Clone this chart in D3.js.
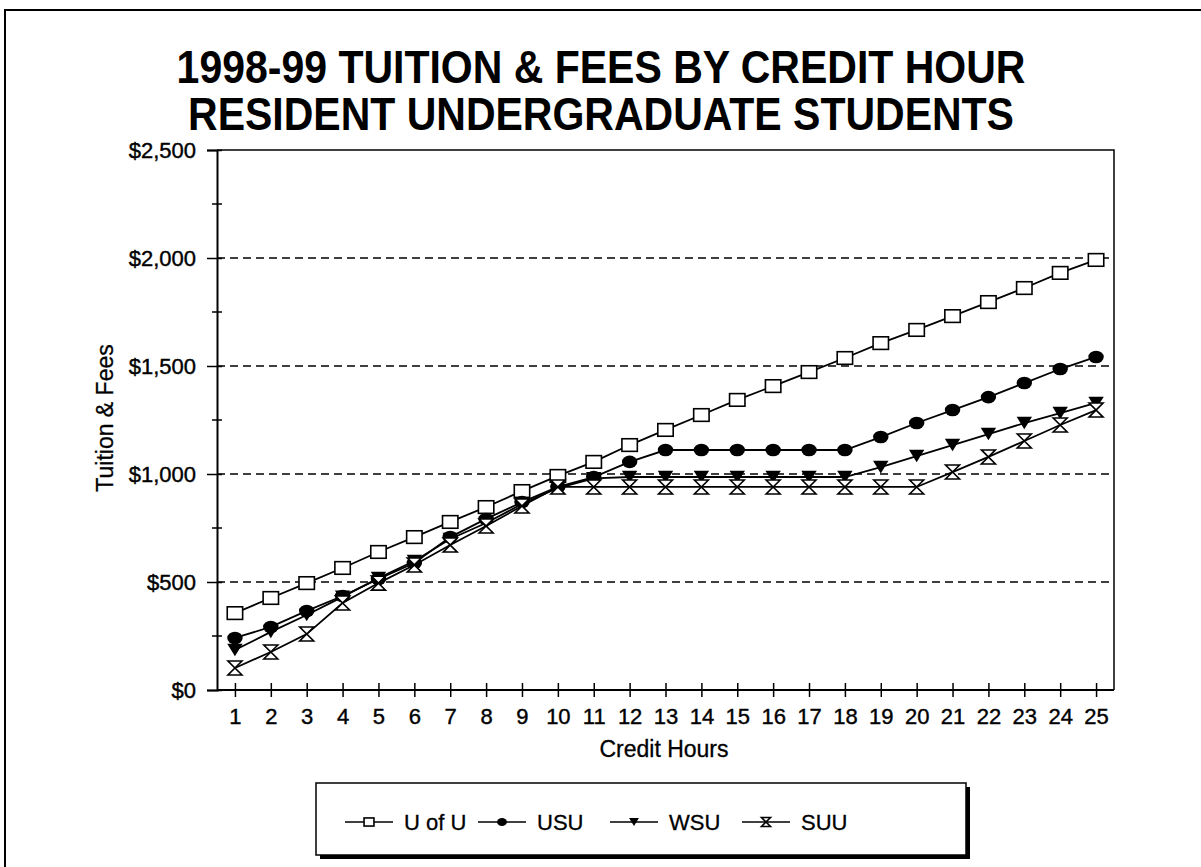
<!DOCTYPE html>
<html>
<head>
<meta charset="utf-8">
<script src="https://cdn.jsdelivr.net/npm/d3@7/dist/d3.min.js"></script>
<style>
  body { margin: 0; background: #fff; }
  svg { font-family: "Liberation Sans", Arial, sans-serif; }
</style>
</head>
<body>
<div class="canvas"></div>
<script>
var width = 1201,
   height = 867;

// data
var credits = [1,2,3,4,5,6,7,8,9,10,11,12,13,14,15,16,17,18,19,20,21,22,23,24,25];
var uofu = [356,426,495,565,639,708,778,847,921,991,1056,1134,1204,1273,1343,1407,1472,1537,1606,1667,1731,1796,1861,1931,1991];
var usu = [241,292,366,435,514,588,708,792,870,940,986,1056,1111,1111,1111,1111,1111,1111,1171,1236,1296,1356,1421,1486,1542];
var wsu = [185,269,347,431,518,597,699,773,861,935,980,986,986,986,986,986,986,986,1032,1083,1134,1185,1236,1282,1329];
var suu = [102,176,259,403,495,579,671,759,852,940,940,940,940,940,940,940,940,940,940,940,1009,1079,1153,1227,1296];
var seriesNames = ['U of U', 'USU', 'WSU', 'SUU'];
var yTicks = [0, 500, 1000, 1500, 2000, 2500];
var titleLines = ['1998-99 TUITION & FEES BY CREDIT HOUR', 'RESIDENT UNDERGRADUATE STUDENTS'];

var series = [
   {name: seriesNames[0], values: uofu, marker: 'square'},
   {name: seriesNames[1], values: usu, marker: 'circle'},
   {name: seriesNames[2], values: wsu, marker: 'triangle'},
   {name: seriesNames[3], values: suu, marker: 'hourglass'}
];

var plot = {left: 217, top: 150, right: 1114, bottom: 690};

var svg = d3.select('.canvas')
   .append('svg')
   .attr('width', width)
   .attr('height', height);

// outer frame (only top and left show in the scan)
svg.append('path')
   .attr('d', 'M5,867 V10 H1201')
   .attr('fill', 'none')
   .attr('stroke', '#000')
   .attr('stroke-width', 2);

// title, a bit taller than plain Arial like the scan
svg.selectAll('.title')
   .data(titleLines)
   .enter().append('text')
      .attr('class', 'title')
      .attr('transform', (d, i) => `translate(601,${83 + i * 47}) scale(1,1.13)`)
      .attr('text-anchor', 'middle')
      .style('font-size', '41px')
      .style('font-weight', 'bold')
      .text(d => d);

var x = d3.scalePoint()
   .domain(credits)
   .range([plot.left, plot.right])
   .padding(0.5);

var y = d3.scaleLinear()
   .domain([0, 2500])
   .range([plot.bottom, plot.top]);

// dashed gridlines
svg.append('g')
   .selectAll('line')
   .data(yTicks.filter(d => d > 0 && d < 2500))
   .enter().append('line')
      .attr('x1', plot.left)
      .attr('x2', plot.right)
      .attr('y1', d => y(d))
      .attr('y2', d => y(d))
      .attr('stroke', '#000')
      .attr('stroke-width', 1.6)
      .attr('stroke-dasharray', '8,5');

// plot box top + right
svg.append('path')
   .attr('d', `M${plot.left},${plot.top} H${plot.right} V${plot.bottom}`)
   .attr('fill', 'none')
   .attr('stroke', '#000')
   .attr('stroke-width', 1.5);

// y axis
var yAxis = d3.axisLeft(y)
   .tickValues(yTicks)
   .tickSize(10)
   .tickPadding(11)
   .tickFormat(d => '$' + d3.format(',')(d));

var gy = svg.append('g')
   .attr('transform', `translate(${plot.left},0)`)
   .call(yAxis);
gy.select('.domain').attr('stroke-width', 2);
gy.selectAll('.tick line').attr('stroke-width', 1.5).attr('x2', 5).attr('x1', -10);
gy.selectAll('.tick text')
   .style('font-size', '22px')
   .style('font-family', '"Liberation Sans", Arial, sans-serif')
   .attr('fill', '#000')
   .attr('stroke', '#000')
   .attr('stroke-width', 0.4);

// minor ticks on the y axis
svg.append('g')
   .selectAll('line')
   .data([250, 750, 1250, 1750, 2250])
   .enter().append('line')
      .attr('x1', plot.left - 5)
      .attr('x2', plot.left + 5)
      .attr('y1', d => y(d))
      .attr('y2', d => y(d))
      .attr('stroke', '#000')
      .attr('stroke-width', 1.5);

// x axis
var xAxis = d3.axisBottom(x)
   .tickSize(7)
   .tickPadding(11);

var gx = svg.append('g')
   .attr('transform', `translate(0,${plot.bottom})`)
   .call(xAxis);
gx.select('.domain').attr('d', `M${plot.left},0H${plot.right}`).attr('stroke-width', 2);
gx.selectAll('.tick line').attr('y1', -7).attr('y2', 7).attr('stroke-width', 1.5);
gx.selectAll('.tick text')
   .style('font-size', '22px')
   .style('font-family', '"Liberation Sans", Arial, sans-serif')
   .attr('fill', '#000')
   .attr('stroke', '#000')
   .attr('stroke-width', 0.4);

// axis titles
svg.append('text')
   .attr('x', 664)
   .attr('y', 757)
   .attr('text-anchor', 'middle')
   .style('font-size', '23px')
   .attr('stroke', '#000')
   .attr('stroke-width', 0.3)
   .text('Credit Hours');

svg.append('text')
   .attr('transform', 'translate(113,418) rotate(-90)')
   .attr('text-anchor', 'middle')
   .style('font-size', '23px')
   .attr('stroke', '#000')
   .attr('stroke-width', 0.3)
   .text('Tuition & Fees');

// markers
function drawMarker(g, type, s) {
   if (type === 'square') {
      g.append('rect')
         .attr('x', -s * 0.55).attr('y', -s * 0.45)
         .attr('width', s * 1.1).attr('height', s * 0.9)
         .attr('fill', '#fff').attr('stroke', '#000').attr('stroke-width', 1.6);
   } else if (type === 'circle') {
      g.append('ellipse')
         .attr('rx', s * 0.55).attr('ry', s * 0.45)
         .attr('fill', '#000');
   } else if (type === 'triangle') {
      g.append('path')
         .attr('d', `M${-s * 0.55},${-s * 0.45} H${s * 0.55} L0,${s * 0.45} Z`)
         .attr('fill', '#000');
   } else {
      var h = s * 0.5;
      g.append('path')
         .attr('d', `M${-h},${-h} H${h} L${-h},${h} H${h} Z`)
         .attr('fill', '#fff').attr('stroke', '#000').attr('stroke-width', 1.6);
   }
}

var line = d3.line()
   .x((d, i) => x(credits[i]))
   .y(d => y(d));

var seriesLayer = svg.append('g');

series.forEach(s => {
   seriesLayer.append('path')
      .datum(s.values)
      .attr('d', line)
      .attr('fill', 'none')
      .attr('stroke', '#000')
      .attr('stroke-width', 1.8);
});

series.forEach(s => {
   seriesLayer.append('g')
      .selectAll('g')
      .data(s.values)
      .enter().append('g')
         .attr('transform', (d, i) => `translate(${x(credits[i])},${y(d)})`)
         .each(function() { drawMarker(d3.select(this), s.marker, 14); });
});

// legend with drop shadow
var legend = svg.append('g');
legend.append('rect')
   .attr('x', 320).attr('y', 787)
   .attr('width', 650).attr('height', 72)
   .attr('fill', '#000');
legend.append('rect')
   .attr('x', 316).attr('y', 783)
   .attr('width', 650).attr('height', 72)
   .attr('fill', '#fff')
   .attr('stroke', '#000')
   .attr('stroke-width', 1.5);

var legendX = [345, 478, 610, 742];
var item = legend.selectAll('.item')
   .data(series)
   .enter().append('g')
      .attr('class', 'item')
      .attr('transform', (d, i) => `translate(${legendX[i]},822)`);

item.append('line')
   .attr('x1', 0).attr('x2', 48)
   .attr('stroke', '#000')
   .attr('stroke-width', 1.5);
item.append('g')
   .attr('transform', 'translate(24,0)')
   .each(function(d) { drawMarker(d3.select(this), d.marker, 9); });
item.append('text')
   .attr('x', 59)
   .attr('y', 8)
   .style('font-size', '22px')
   .attr('stroke', '#000')
   .attr('stroke-width', 0.3)
   .text(d => d.name);
</script>
</body>
</html>
